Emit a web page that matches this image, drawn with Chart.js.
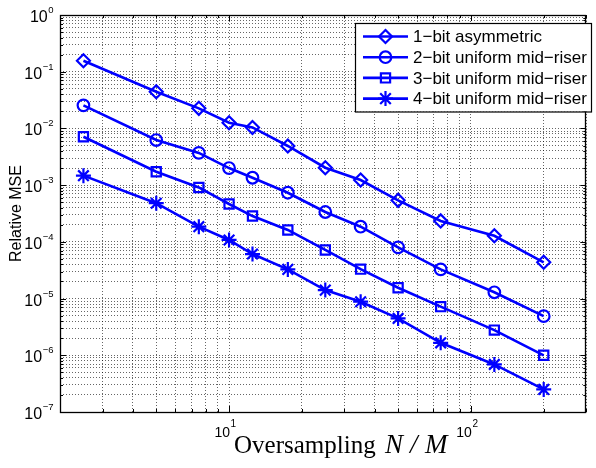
<!DOCTYPE html>
<html>
<head>
<meta charset="utf-8">
<script src="https://cdn.jsdelivr.net/npm/chart.js"></script>
<style>
  html, body { margin: 0; padding: 0; background: #fff; }
  canvas { display: block; }
</style>
</head>
<body>
<canvas id="mseChart" width="596" height="468"></canvas>
<script>
// Oversampling factors N/M
const oversampling = [2.5, 5, 7.5, 10, 12.5, 17.5, 25, 35, 50, 75, 125, 200];

// Relative MSE per quantizer
const mse1bit = [0.156, 0.0444, 0.0226, 0.0126, 0.0104, 0.0049, 0.00203, 0.00123, 0.00054, 0.000234, 0.000128, 4.36e-5];
const mse2bit = [0.0255, 0.00624, 0.0037, 0.0020, 0.00135, 0.000735, 0.000336, 0.000185, 8.0e-5, 3.27e-5, 1.29e-5, 4.9e-6];
const mse3bit = [0.00714, 0.00172, 0.00091, 0.000465, 0.000285, 0.000162, 7.2e-5, 3.3e-5, 1.55e-5, 7.2e-6, 2.78e-6, 1.0e-6];
const mse4bit = [0.00147, 0.00048, 0.000185, 0.000108, 6.1e-5, 3.27e-5, 1.41e-5, 8.8e-6, 4.47e-6, 1.66e-6, 6.9e-7, 2.5e-7];

const seriesLabels = [
  "1\u2212bit asymmetric",
  "2\u2212bit uniform mid\u2212riser",
  "3\u2212bit uniform mid\u2212riser",
  "4\u2212bit uniform mid\u2212riser",
];

// tick labels (powers of ten)
const xTickExps = [1, 2];
const yTickExps = [0, -1, -2, -3, -4, -5, -6, -7];

const BLUE = "#0000ff";
const SANS = "'Liberation Sans', Arial, sans-serif";
const SERIF = "'Liberation Serif', 'Times New Roman', serif";

function toPoints(ys) {
  return oversampling.map((x, i) => ({ x: x, y: ys[i] }));
}

// all k*10^n values inside [lo, hi] for the dotted minor grid
function logGridValues(lo, hi) {
  const vals = [];
  for (let e = Math.floor(Math.log10(lo)); e <= Math.ceil(Math.log10(hi)); e++) {
    for (let k = 1; k <= 9; k++) {
      const v = parseFloat((k * Math.pow(10, e)).toPrecision(6));
      if (v >= lo * 0.9999 && v <= hi * 1.0001) vals.push(v);
    }
  }
  return vals;
}

function isDecade(v) {
  const l = Math.log10(v);
  return Math.abs(l - Math.round(l)) < 1e-6;
}

const markerStyles = [
  { pointStyle: "rectRot", radius: 6.5 },
  { pointStyle: "circle", radius: 5.8 },
  { pointStyle: "rect", radius: 6.5 },
  { pointStyle: "star", radius: 7.5 },
];

const seriesData = [mse1bit, mse2bit, mse3bit, mse4bit];

const datasets = seriesData.map((ys, i) => ({
  label: seriesLabels[i],
  data: toPoints(ys),
  showLine: true,
  borderColor: BLUE,
  borderWidth: 2.6,
  pointStyle: markerStyles[i].pointStyle,
  pointRadius: markerStyles[i].radius,
  pointHoverRadius: markerStyles[i].radius,
  pointBorderColor: BLUE,
  pointBackgroundColor: "rgba(0,0,0,0)",
  pointBorderWidth: 2.2,
  tension: 0,
}));

// "10" with a raised exponent; anchorX is the right edge of the group
// (align "right") or the right edge of the "10" (align "tick")
function drawPower(ctx, anchorX, y, exp, baseSize, expSize, align, rise) {
  const expText = exp < 0 ? "\u2212" + Math.abs(exp) : String(exp);
  ctx.font = baseSize + "px " + SANS;
  const wBase = ctx.measureText("10").width;
  ctx.font = expSize + "px " + SANS;
  const wExp = ctx.measureText(expText).width;
  const left = align === "right" ? anchorX - wBase - wExp - 0.5 : anchorX - wBase;
  ctx.textAlign = "left";
  ctx.textBaseline = "alphabetic";
  ctx.font = baseSize + "px " + SANS;
  ctx.fillText("10", left, y);
  ctx.font = expSize + "px " + SANS;
  ctx.fillText(expText, left + wBase + 0.5, y - rise);
}

const matlabAxes = {
  id: "matlabAxes",
  afterDraw(chart) {
    const ctx = chart.ctx;
    const area = chart.chartArea;
    const xs = chart.scales.x;
    const ys = chart.scales.y;
    ctx.save();
    ctx.strokeStyle = "#000";
    ctx.fillStyle = "#000";
    ctx.lineWidth = 1;
    ctx.setLineDash([]);

    // inward tick marks on all four sides
    ctx.beginPath();
    xs.ticks.forEach(t => {
      const px = Math.round(xs.getPixelForValue(t.value)) + 0.5;
      const len = isDecade(t.value) ? 6 : 3;
      ctx.moveTo(px, area.bottom);
      ctx.lineTo(px, area.bottom - len);
      ctx.moveTo(px, area.top);
      ctx.lineTo(px, area.top + len);
    });
    ys.ticks.forEach(t => {
      const py = Math.round(ys.getPixelForValue(t.value)) + 0.5;
      const len = isDecade(t.value) ? 6 : 3;
      ctx.moveTo(area.left, py);
      ctx.lineTo(area.left + len, py);
      ctx.moveTo(area.right, py);
      ctx.lineTo(area.right - len, py);
    });
    ctx.stroke();

    // frame
    ctx.lineWidth = 1.3;
    ctx.strokeRect(Math.round(area.left) + 0.5, Math.round(area.top) + 0.5,
      Math.round(area.right - area.left) - 1, Math.round(area.bottom - area.top));

    // y tick labels
    yTickExps.forEach(e => {
      const py = ys.getPixelForValue(Math.pow(10, e));
      drawPower(ctx, 53.5, py + 7, e, 16, 9.5, "right", 9);
    });

    // x tick labels
    xTickExps.forEach(e => {
      const px = xs.getPixelForValue(Math.pow(10, e));
      drawPower(ctx, px + 1, 437, e, 14, 10, "tick", 10);
    });

    // y axis title
    ctx.save();
    ctx.translate(20.5, (area.top + area.bottom) / 2);
    ctx.rotate(-Math.PI / 2);
    ctx.font = "16px " + SANS;
    ctx.textAlign = "center";
    ctx.textBaseline = "alphabetic";
    ctx.fillText("Relative MSE", 0, 0);
    ctx.restore();

    // x axis title: "Oversampling N/M"
    ctx.textBaseline = "alphabetic";
    ctx.textAlign = "left";
    ctx.font = "25px " + SERIF;
    ctx.fillText("Oversampling", 234, 453);
    ctx.font = "italic 27px " + SERIF;
    ctx.fillText("N", 385, 453);
    ctx.fillText("/", 410, 453);
    ctx.fillText("M", 425, 453);

    // legend box
    const box = { left: 355, top: 23, right: 591, bottom: 111.5 };
    ctx.fillStyle = "#fff";
    ctx.fillRect(box.left, box.top, box.right - box.left, box.bottom - box.top);
    ctx.strokeStyle = "#000";
    ctx.lineWidth = 1.2;
    ctx.strokeRect(box.left + 0.5, box.top + 0.5, box.right - box.left, box.bottom - box.top);

    chart.data.datasets.forEach((ds, i) => {
      const cy = 36.5 + i * 20.7;
      ctx.strokeStyle = BLUE;
      ctx.lineWidth = 2.6;
      ctx.beginPath();
      ctx.moveTo(363, cy);
      ctx.lineTo(408, cy);
      ctx.stroke();
      ctx.lineWidth = 2.2;
      ctx.fillStyle = "rgba(0,0,0,0)";
      if (Chart.helpers && Chart.helpers.drawPoint) {
        Chart.helpers.drawPoint(ctx, {
          pointStyle: ds.pointStyle,
          rotation: 0,
          radius: ds.pointRadius,
          borderWidth: 2.2,
        }, 385.5, cy);
      }
      ctx.fillStyle = "#000";
      ctx.font = "17px " + SANS;
      ctx.textAlign = "left";
      ctx.textBaseline = "middle";
      ctx.fillText(ds.label, 413, cy + 1);
    });

    ctx.restore();
  },
};

const ctxMse = document.getElementById("mseChart").getContext("2d");
const mseChart = new Chart(ctxMse, {
  type: "scatter",
  data: { datasets: datasets },
  options: {
    responsive: false,
    animation: false,
    devicePixelRatio: 1,
    layout: { padding: { left: 60, top: 15, right: 0, bottom: 56 } },
    plugins: {
      legend: { display: false },
      tooltip: { enabled: false },
    },
    scales: {
      x: {
        type: "logarithmic",
        min: 2,
        max: 300,
        afterBuildTicks: axis => {
          axis.ticks = logGridValues(2, 300).map(v => ({ value: v }));
        },
        ticks: { display: false },
        grid: { color: "rgba(0,0,0,0.6)", lineWidth: 1, drawTicks: false },
        border: { display: false, dash: [1, 2] },
      },
      y: {
        type: "logarithmic",
        min: 1e-7,
        max: 1,
        afterBuildTicks: axis => {
          axis.ticks = logGridValues(1e-7, 1).map(v => ({ value: v }));
        },
        ticks: { display: false },
        grid: { color: "rgba(0,0,0,0.6)", lineWidth: 1, drawTicks: false },
        border: { display: false, dash: [1, 2] },
      },
    },
  },
  plugins: [matlabAxes],
});
</script>
</body>
</html>
